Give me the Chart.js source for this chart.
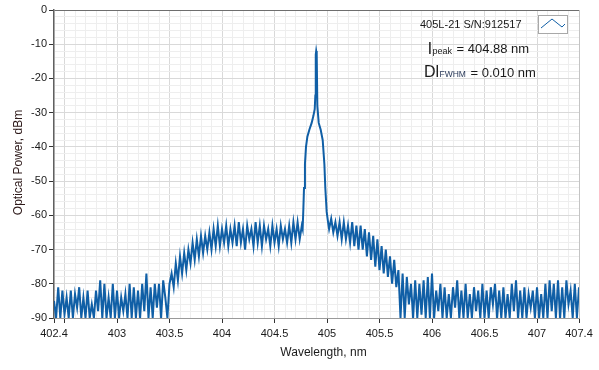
<!doctype html>
<html>
<head>
<title>405L-21 Spectrum</title>
<script src="https://cdn.jsdelivr.net/npm/chart.js@4/dist/chart.umd.min.js"></script>
<style>
  body { margin: 0; background: #fff; }
  * { font-family: "Liberation Sans", Arial, sans-serif; }
</style>
</head>
<body>
<canvas id="spectrum" width="599" height="370"></canvas>
<script>
// axis labels
var xTickLabels = [402.4, 403, 403.5, 404, 404.5, 405, 405.5, 406, 406.5, 407, 407.4];
var yTickLabels = [0, -10, -20, -30, -40, -50, -60, -70, -80, -90];
var xTitle = 'Wavelength, nm';
var yTitle = 'Optical Power, dBm';
var seriesName = '405L-21 S/N:912517';
var peakText = '= 404.88 nm';
var fwhmText = '= 0.010 nm';

// spectrum, one sample every 0.02 nm
var sampleStep = 0.02;
var leftStart = 402.40;
var leftDbm = [
  -85,-90,-81,-90,-82,-89,-84,-90,-82,-90,
  -83,-87,-81,-90,-84,-90,-82,-90,-86,-90,
  -82,-88,-79,-90,-80,-90,-84,-90,-80,-90,
  -82,-90,-84,-88,-83,-90,-80,-90,-81,-90,
  -82,-90,-80,-88,-77,-90,-81,-90,-80,-87,
  -80,-90,-79,-84,-90,-80,
  -77,-81,-74,-79,-72,-77,-71,-76,-70,-74,
  -68,-73,-67,-72,-66,-71,-66,-70,-65,-70,
  -64,-69,-63,-69,-64,
  -68,-63,-69,-64,-68,-63,-69,-62,-68,-64,
  -70,-63,-67,-64,-69,-62,-68,-63,-69,-63,
  -67,-64,-69,-63,-68,-64,-69,-63,-67,-64,
  -68,-63,-68,-62,-67,-62,-67,-63
];
// the lasing line itself
var peakNm = [404.768, 404.775, 404.781, 404.790, 404.800, 404.813, 404.832, 404.854, 404.870, 404.883, 404.889,
              404.893, 404.897, 404.902, 404.908, 404.921, 404.940, 404.959, 404.975, 404.984, 404.997, 405.010];
var peakDbm = [-64, -58, -52, -45, -40, -37, -35, -33, -31, -29, -25,
               -13, -12, -13, -28, -33, -35, -38, -45, -52, -59, -62];
var rightStart = 405.02;
var rightDbm = [
  -64,-61,-65,-62,-66,-62,-67,-62,-67,-63,
  -68,-62,-69,-63,-70,-63,-70,-64,-72,-65,
  -73,-66,-75,-67,-76,-69,-77,-70,-78,-72,
  -80,-73,-81,-76,-90,-77,-90,-78,-86,-80,
  -90,-79,-90,-80,-89,-79,-90,-78,-90,-77,
  -90,-82,-88,-80,-90,-81,-90,-83,-90,-81,
  -87,-79,-90,-82,-90,-80,-90,-83,-90,-81,
  -88,-82,-90,-80,-90,-82,-90,-81,-86,-80,
  -90,-82,-90,-81,-90,-83,-90,-80,-88,-79,
  -90,-82,-90,-81,-90,-83,-87,-82,-90,-81,
  -90,-83,-90,-80,-90,-79,-88,-80,-90,-79,
  -90,-81,-90,-79,-86,-82,-90,-80,-90,-81
];

var lineColor = '#105fa6';

var points = [];
leftDbm.forEach(function(v, i) { points.push({x: +(leftStart + i * sampleStep).toFixed(3), y: v}); });
peakNm.forEach(function(w, i) { points.push({x: w, y: peakDbm[i]}); });
rightDbm.forEach(function(v, i) { points.push({x: +(rightStart + i * sampleStep).toFixed(3), y: v}); });

function near(a, b) { return Math.abs(a - b) < 1e-6; }
function isLabelX(v) { return xTickLabels.some(function(t) { return near(t, v); }); }
function isHalf(v) { return near(v * 2, Math.round(v * 2)); }

// grid every 0.1 nm and every 2 dB
var xGrid = [], yGrid = [];
for (var k = 0; k <= 50; k++) xGrid.push(+(402.4 + k * 0.1).toFixed(1));
for (var d = -90; d <= 0; d += 2) yGrid.push(d);

Chart.defaults.font.family = '"Liberation Sans", Arial, sans-serif';
Chart.defaults.color = '#1a1a1a';

var textPlugin = {
  id: 'texts',
  afterDraw: function(chart) {
    var c = chart.ctx;
    c.save();
    c.fillStyle = '#1a1a1a';
    c.textBaseline = 'alphabetic';
    c.textAlign = 'left';

    // legend
    c.font = '11px "Liberation Sans"';
    c.fillText(seriesName, 420, 28);
    c.fillStyle = '#fff';
    c.strokeStyle = '#a8a8a8';
    c.lineWidth = 1;
    c.fillRect(538.5, 15.5, 29, 18);
    c.strokeRect(538.5, 15.5, 29, 18);
    c.strokeStyle = lineColor;
    c.beginPath();
    c.moveTo(541, 28); c.lineTo(552, 19); c.lineTo(562, 27); c.lineTo(565, 24);
    c.stroke();

    // peak and width
    c.fillStyle = '#1a1a1a';
    c.font = '17px "Liberation Sans"';
    c.fillText('l', 428, 54);
    c.font = '9px "Liberation Sans"';
    c.fillText('peak', 432.5, 54);
    c.font = '13px "Liberation Sans"';
    c.fillText(peakText, 456.5, 52.5);

    c.font = '16px "Liberation Sans"';
    c.fillText('Dl', 424, 77);
    c.font = '8.5px "Liberation Sans"';
    c.fillStyle = '#2a3a5a';
    c.fillText('FWHM', 439.5, 77);
    c.fillStyle = '#1a1a1a';
    c.font = '13px "Liberation Sans"';
    c.fillText(fwhmText, 470.5, 76.5);

    // axis titles
    c.font = '12px "Liberation Sans"';
    c.textAlign = 'center';
    c.fillText(xTitle, 323.5, 355.5);
    c.fillStyle = '#2e1a1a';
    c.translate(22, 162.5);
    c.rotate(-Math.PI / 2);
    c.fillText(yTitle, 0, 0);
    c.restore();
  }
};

new Chart(document.getElementById('spectrum').getContext('2d'), {
  type: 'line',
  data: {
    datasets: [{
      label: seriesName,
      data: points,
      borderColor: lineColor,
      borderWidth: 2,
      pointRadius: 0,
      tension: 0,
      fill: false
    }]
  },
  options: {
    responsive: false,
    animation: false,
    layout: { padding: { top: 10, right: 20, left: 0, bottom: 0 } },
    plugins: { legend: { display: false }, tooltip: { enabled: false } },
    scales: {
      x: {
        type: 'linear',
        min: 402.4,
        max: 407.4,
        afterBuildTicks: function(scale) { scale.ticks = xGrid.map(function(v) { return {value: v}; }); },
        afterFit: function(scale) { scale.height = 52; },
        ticks: {
          autoSkip: false,
          maxRotation: 0,
          minRotation: 0,
          padding: 4,
          font: { size: 11 },
          color: '#1a1a1a',
          callback: function(v) { return isLabelX(v) ? String(+v.toFixed(1)) : ''; }
        },
        grid: {
          tickLength: 5,
          color: function(ctx) {
            var v = ctx.tick ? ctx.tick.value : 0;
            if (near(v, 407.4)) return '#c4c4c4';
            return isHalf(v) ? '#d9d9d9' : '#eeeeee';
          },
          tickColor: function(ctx) {
            var v = ctx.tick ? ctx.tick.value : 0;
            return (isHalf(v) || isLabelX(v)) ? '#333' : 'rgba(0,0,0,0)';
          }
        },
        border: { color: '#9a9a9a', width: 1 }
      },
      y: {
        min: -90,
        max: 0,
        afterBuildTicks: function(scale) { scale.ticks = yGrid.map(function(v) { return {value: v}; }); },
        afterFit: function(scale) { scale.width = 54; },
        ticks: {
          autoSkip: false,
          padding: 2,
          font: { size: 11 },
          color: '#1a1a1a',
          callback: function(v) { return yTickLabels.indexOf(v) >= 0 ? String(v) : ''; }
        },
        grid: {
          tickLength: 5,
          color: function(ctx) {
            var v = ctx.tick ? ctx.tick.value : 0;
            if (v === 0) return '#6e6e6e';
            return v % 10 === 0 ? '#d9d9d9' : '#eeeeee';
          },
          tickColor: function(ctx) {
            var v = ctx.tick ? ctx.tick.value : 0;
            return v % 10 === 0 ? '#333' : 'rgba(0,0,0,0)';
          }
        },
        border: { color: '#606060', width: 1.5 }
      }
    }
  },
  plugins: [textPlugin]
});
</script>
</body>
</html>
